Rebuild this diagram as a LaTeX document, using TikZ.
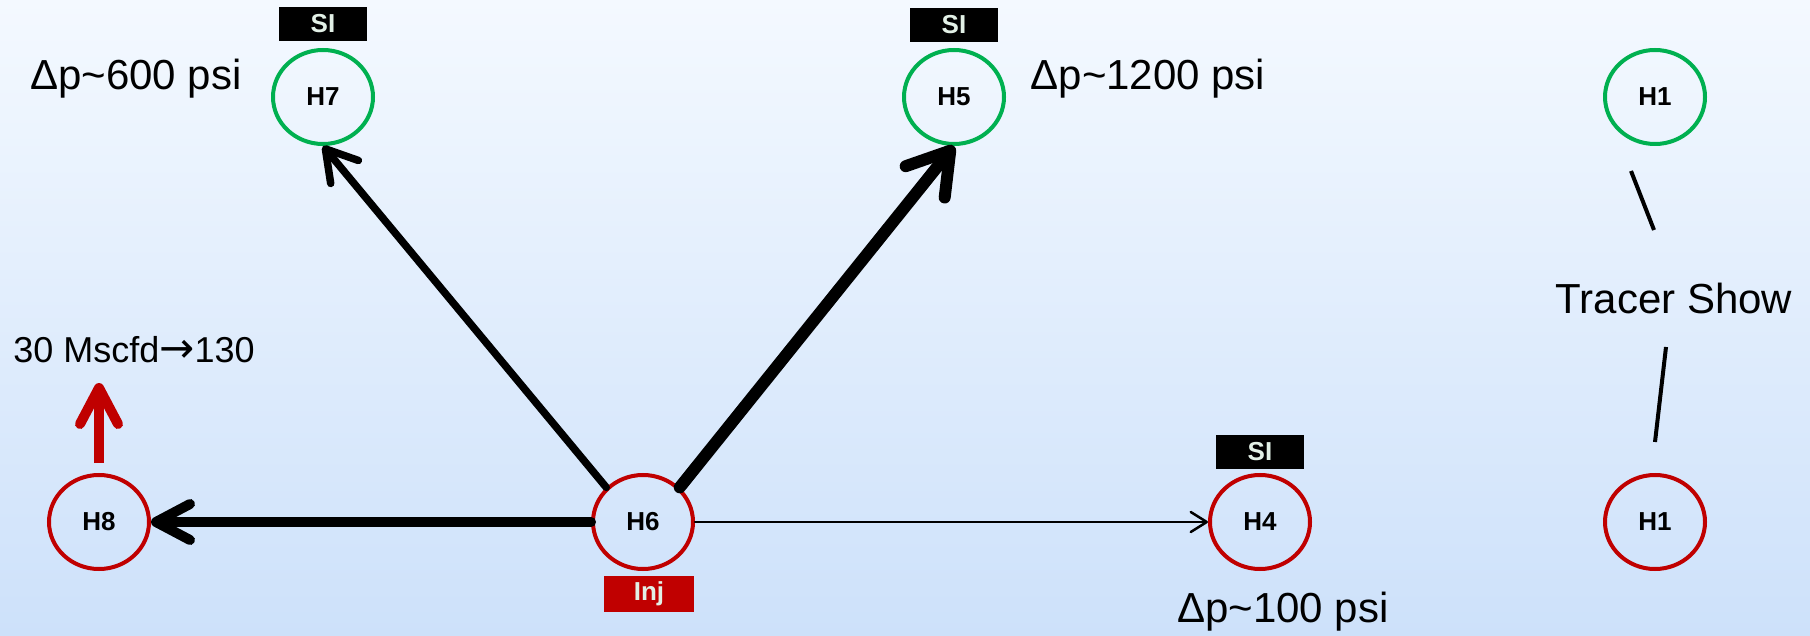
\documentclass[tikz,border=0pt]{standalone}
\usepackage{fontspec}
\setmainfont{Liberation Sans}
\newfontfamily\arrowfont{DejaVu Sans}
\usetikzlibrary{arrows.meta,shapes.geometric}
\definecolor{bgtop}{HTML}{F4F9FF}
\definecolor{bgbot}{HTML}{CDE1FA}
\definecolor{wgreen}{HTML}{00B050}
\definecolor{wred}{HTML}{C00000}
\definecolor{tagtxt}{HTML}{E2F0E6}
\tikzset{
  well/.style={ellipse, draw=#1, line width=4pt, minimum width=100pt, minimum height=94pt,
    inner sep=0pt, font=\fontsize{26}{30}\selectfont\bfseries},
  tag/.style={fill=#1, text=tagtxt, minimum width=88pt, minimum height=34pt, inner sep=0pt,
    font=\fontsize{26}{30}\selectfont\bfseries},
  biglabel/.style={font=\fontsize{42}{50}\selectfont, inner sep=0pt, anchor=center},
  flow/.style={line width=#1, line cap=round, draw=black},
  tick/.style={line width=4pt, draw=black},
}
\begin{document}
\begin{tikzpicture}[x=1pt,y=-1pt]
\shade[top color=bgtop, bottom color=bgbot] (0,0) rectangle (1810,636);
\useasboundingbox (0,0) rectangle (1810,636);

% wells
\node[well=wgreen] (H7) at (323,97) {H7};
\node[well=wgreen] (H5) at (954,97) {H5};
\node[well=wred] (H8) at (99,522) {H8};
\node[well=wred] (H6) at (643,522) {H6};
\node[well=wred] (H4) at (1260,522) {H4};
\node[well=wgreen] (H1a) at (1655,97) {H1};
\node[well=wred] (H1b) at (1655,522) {H1};

% tags
\node[tag=black] (siH7) at (323,24) {SI};
\node[tag=black] (siH5) at (954,25) {SI};
\node[tag=black] (siH4) at (1260,452) {SI};
\node[tag=wred, minimum width=90pt, minimum height=36pt] (inj) at (649,594) {Inj};

% labels
\node[biglabel] (dp600) at (136,79) {Δp\char"7E 600 psi};
\node[biglabel] (dp1200) at (1148,79) {Δp\char"7E 1200 psi};
\node[biglabel] (dp100) at (1283,612) {Δp\char"7E 100 psi};
\node[biglabel, font=\fontsize{36}{42}\selectfont] (rate) at (134,350) {30 Mscfd{\arrowfont\fontsize{42}{42}\selectfont →}130};
\node[biglabel] (tracer) at (1674,298) {Tracer Show};

% flow arrows
\draw[flow=7.5pt, -{Straight Barb[length=30pt,width=36pt,round]}] (H6.north west) -- (H7.south);
\draw[flow=12pt, -{Straight Barb[length=40pt,width=50pt,round]}] (H6.north east) -- (H5.south);
\draw[flow=10pt, -{Straight Barb[length=34pt,width=36pt,round]}] (H6.west) -- (H8.east);
\draw[flow=2.5pt, -{Straight Barb[length=16pt,width=20pt,round]}] (H6.east) -- (H4.west);

% production arrow
\coordinate (up8) at (99,383);
\draw[flow=10pt, draw=wred, line cap=butt, shorten <=10pt, -{Straight Barb[length=36pt,width=38pt,round]}] (H8.north) -- (up8);

% tracer ticks
\coordinate (t1a) at (1631,171);
\coordinate (t1b) at (1654,230);
\coordinate (t2a) at (1666,347);
\coordinate (t2b) at (1655,442);
\draw[tick] (t1a) -- (t1b);
\draw[tick] (t2a) -- (t2b);
\end{tikzpicture}
\end{document}
